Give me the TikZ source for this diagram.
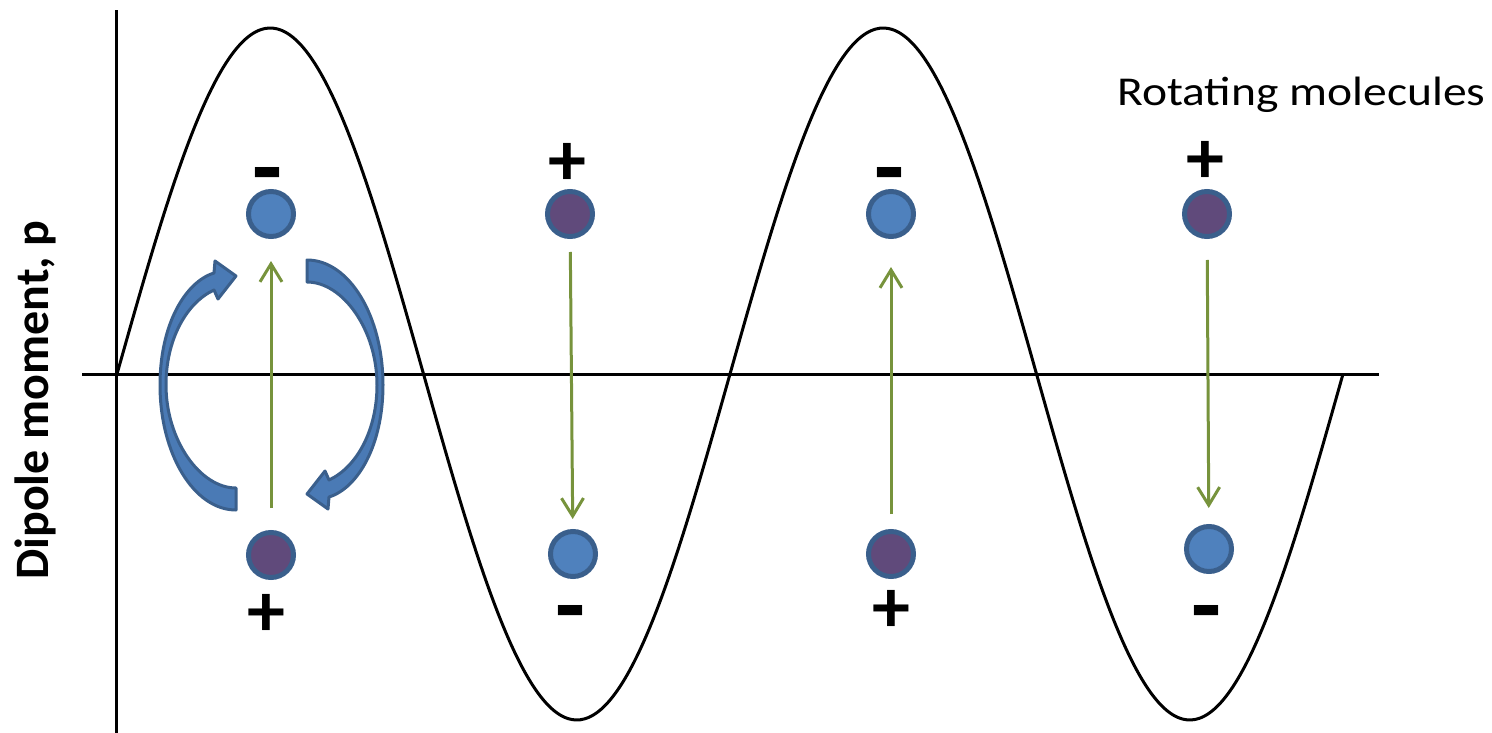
\documentclass[tikz,border=0pt]{standalone}
\usepackage{fontspec}
\setmainfont{Carlito}
\usetikzlibrary{arrows.meta}
\definecolor{molblue}{HTML}{4F81BD}
\definecolor{molborder}{HTML}{3A5F8C}
\definecolor{molpurple}{HTML}{604A7B}
\definecolor{arrgreen}{HTML}{77933C}
\definecolor{arrblue}{HTML}{4A7AB5}
\begin{document}
\begin{tikzpicture}[x=1pt,y=-1pt,
  mol/.style={circle, draw=molborder, line width=5pt, minimum size=45pt, inner sep=0pt},
  negmol/.style={mol, fill=molblue},
  posmol/.style={mol, fill=molpurple},
  plussign/.style={font=\fontsize{76}{80}\selectfont\bfseries, inner sep=0pt},
  minussign/.style={font=\fontsize{98}{100}\selectfont\bfseries, inner sep=0pt},
  field/.style={draw=arrgreen, line width=3pt, -{Straight Barb[length=18pt,width=22pt]}},
  spin/.style={fill=arrblue, draw=molborder, line width=3pt, line join=round},
  axis/.style={line width=3pt},
  wave/.style={line width=3pt}]
\useasboundingbox (0,0) rectangle (1492,733);
% axes
\coordinate (yb) at (116,733);
\coordinate (yt) at (116,10);
\coordinate (xl) at (82,374);
\coordinate (xr) at (1379,374);
\draw[axis] (yb) -- (yt);
\draw[axis] (xl) -- (xr);
% wave
\draw[wave] plot[domain=0:1226, samples=300, smooth] ({117+\x},{374-346*sin(\x/613*360)});
% labels
\node[anchor=base west, font=\fontsize{41}{45}\selectfont, inner sep=0pt] (title) at (1117,106) {\scalebox{1.16}[1]{Rotating molecules}};
\node[rotate=90, font=\fontsize{48}{52}\selectfont\bfseries, inner sep=0pt] (ylabel) at (35,400) {Dipole moment, p};
% curved arrows
\path[spin] (236,510) .. controls (194,510) and (160,454) .. (160,385)
  .. controls (160,325) and (185,282) .. (214,273) -- (215,261) -- (236,276) -- (218,299) -- (214,290)
  .. controls (186,303) and (166,340) .. (166,385)
  .. controls (166,440) and (200,488) .. (236,488) -- cycle;
\path[spin, rotate around={180:(271.5,385)}] (236,510) .. controls (194,510) and (160,454) .. (160,385)
  .. controls (160,325) and (185,282) .. (214,273) -- (215,261) -- (236,276) -- (218,299) -- (214,290)
  .. controls (186,303) and (166,340) .. (166,385)
  .. controls (166,440) and (200,488) .. (236,488) -- cycle;
% molecules
\node[negmol] (t1) at (271,214) {};
\node[posmol] (t2) at (570,214) {};
\node[negmol] (t3) at (891,214) {};
\node[posmol] (t4) at (1207,214) {};
\node[posmol] (b1) at (271,555) {};
\node[negmol] (b2) at (573,554) {};
\node[posmol] (b3) at (891,554) {};
\node[negmol] (b4) at (1209,549) {};
% signs
\node[minussign] (s1) at (267,184) {-};
\node[plussign] (s2) at (567,164) {+};
\node[minussign] (s3) at (889,184) {-};
\node[plussign] (s4) at (1205,162) {+};
\node[plussign] (u1) at (266,615) {+};
\node[minussign] (u2) at (570,622) {-};
\node[plussign] (u3) at (891,611) {+};
\node[minussign] (u4) at (1206,622) {-};
% field arrows
\draw[field, shorten <=22pt, shorten >=22pt] (b1) -- (t1);
\draw[field, shorten <=13pt, shorten >=10pt] (t2) -- (b2);
\draw[field, shorten <=15pt, shorten >=28pt] (b3) -- (t3);
\draw[field, shorten <=21pt, shorten >=16pt] (t4) -- (b4);
\end{tikzpicture}
\end{document}
